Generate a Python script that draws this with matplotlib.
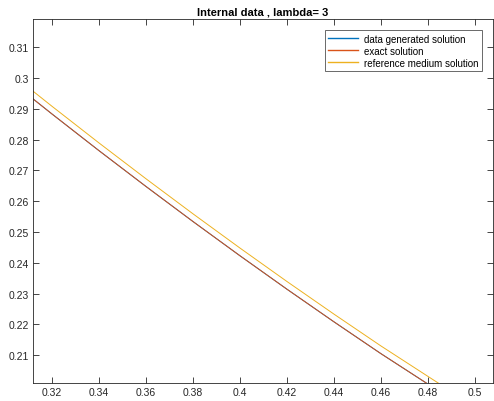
import matplotlib
matplotlib.use("Agg")
import matplotlib.pyplot as plt
from matplotlib.ticker import FuncFormatter

plt.rcParams['font.family'] = ['Liberation Sans', 'DejaVu Sans']

x = [0.30, 0.32, 0.34, 0.36, 0.38, 0.40, 0.42, 0.44, 0.46, 0.48, 0.50]
data_gen = [0.30042, 0.28827, 0.27638, 0.26476, 0.25339, 0.24228, 0.23143, 0.22085, 0.21052, 0.20065, 0.19081]
exact = [0.30042, 0.28827, 0.27638, 0.26476, 0.25339, 0.24228, 0.23143, 0.22085, 0.21052, 0.20065, 0.19081]
ref_medium = [0.30292, 0.29077, 0.27888, 0.26726, 0.25589, 0.24478, 0.23393, 0.22335, 0.21302, 0.20315, 0.19331]

xticks = [0.32, 0.34, 0.36, 0.38, 0.40, 0.42, 0.44, 0.46, 0.48, 0.50]
yticks = [0.21, 0.22, 0.23, 0.24, 0.25, 0.26, 0.27, 0.28, 0.29, 0.30, 0.31]

fig = plt.figure(figsize=(4.94, 4.02), dpi=100)
ax = fig.add_axes([33 / 494, 18 / 402, 460 / 494, 364 / 402])

ax.plot(x, data_gen, color=(0, 0.447, 0.741), lw=0.7, label='data generated solution')
ax.plot(x, exact, color=(0.85, 0.325, 0.098), lw=0.7, label='exact solution')
ax.plot(x, ref_medium, color=(0.929, 0.694, 0.125), lw=0.7, label='reference medium solution')

ax.set_xlim(0.3119, 0.5077)
ax.set_ylim(0.2010, 0.3191)
ax.set_xticks(xticks)
ax.set_yticks(yticks)
fmt = FuncFormatter(lambda v, p: '{:g}'.format(round(v, 4)))
ax.xaxis.set_major_formatter(fmt)
ax.yaxis.set_major_formatter(fmt)

dark = (0.15, 0.15, 0.15)
ax.tick_params(direction='in', top=True, right=True, length=4, width=0.6,
               labelsize=7.5, colors=dark, pad=3)
for s in ax.spines.values():
    s.set_color(dark)
    s.set_linewidth(0.6)

ax.set_title('Internal data , lambda= 3', fontsize=8, fontweight='bold', pad=3)

leg = ax.legend(loc='upper right', fontsize=7, frameon=True, fancybox=False,
                edgecolor=dark, handlelength=3.1, handletextpad=0.6,
                borderpad=0.35, labelspacing=0.22, borderaxespad=1.15)
leg.get_frame().set_linewidth(0.6)
for line in leg.get_lines():
    line.set_linewidth(1.0)

fig.savefig('out.png', dpi=100)
